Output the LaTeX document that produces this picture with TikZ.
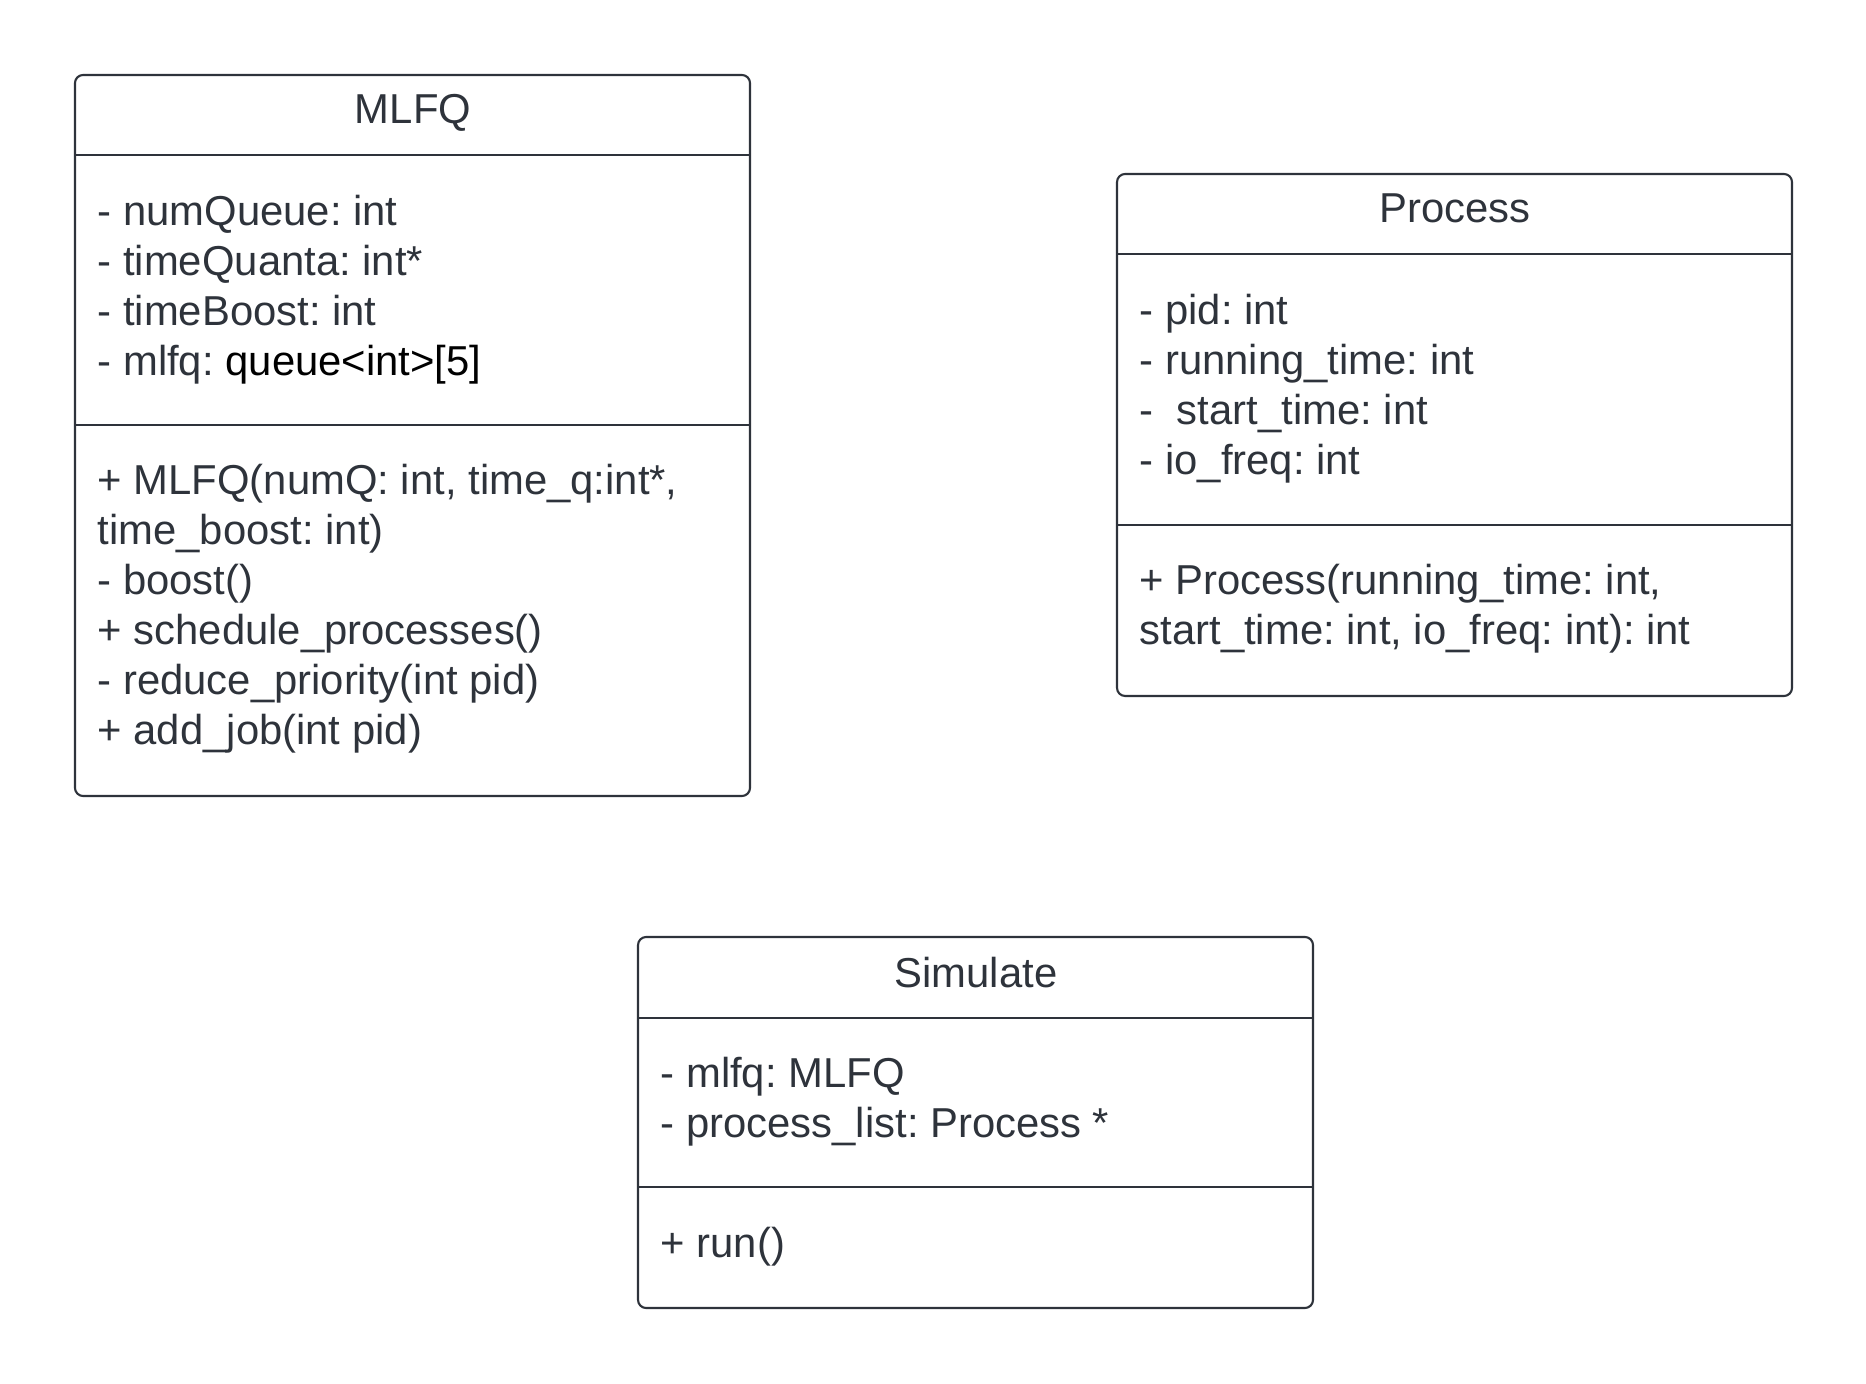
\documentclass[tikz,border=0pt]{standalone}
\usepackage{fontspec}
\setmainfont{Liberation Sans}
\frenchspacing
\definecolor{umlgray}{HTML}{2E333B}
\tikzset{
  classbox/.style={draw=umlgray, line width=0.6pt, rounded corners=2.3pt},
  divider/.style={draw=umlgray, line width=0.6pt},
  classname/.style={anchor=base, inner sep=0pt, text=umlgray},
  member/.style={anchor=base west, inner sep=0pt, text=umlgray},
}
\begin{document}
\begin{tikzpicture}[font=\fontsize{11.9pt}{14.2pt}\selectfont]
    \useasboundingbox (0,0) rectangle (18.66,-13.84);

    % MLFQ
    \draw[classbox] (0.75,-0.75) rectangle (7.50,-7.96);
    \draw[divider] (0.75,-1.55) -- (7.50,-1.55);
    \draw[divider] (0.75,-4.25) -- (7.50,-4.25);
    \node[classname] (mlfq) at (4.13,-1.24) {MLFQ};
    \foreach \txt [count=\i] in {- numQueue: int, - timeQuanta: int*, - timeBoost: int,
        - mlfq: \textcolor{black}{queue<int>[5]}}
        \node[member] (mlfq-a\i) at (0.97,{-2.26-0.5*(\i-1)}) {\txt};
    \foreach \txt [count=\i] in {{+ MLFQ(numQ: int, time\_q:int*,}, time\_boost: int),
        - boost(), + schedule\_processes(), - reduce\_priority(int pid), + add\_job(int pid)}
        \node[member] (mlfq-m\i) at (0.97,{-4.95-0.5*(\i-1)}) {\txt};

    % Process
    \draw[classbox] (11.17,-1.74) rectangle (17.92,-6.96);
    \draw[divider] (11.17,-2.54) -- (17.92,-2.54);
    \draw[divider] (11.17,-5.25) -- (17.92,-5.25);
    \node[classname] (process) at (14.55,-2.23) {Process};
    \foreach \txt [count=\i] in {- pid: int, - running\_time: int, - \ start\_time: int, - io\_freq: int}
        \node[member] (process-a\i) at (11.39,{-3.25-0.5*(\i-1)}) {\txt};
    \node[member] (process-m1) at (11.39,-5.95) {+ Process(running\_time: int,};
    \node[member] (process-m2) at (11.39,-6.45) {start\_time: int, io\_freq: int): int};

    % Simulate
    \draw[classbox] (6.38,-9.37) rectangle (13.13,-13.08);
    \draw[divider] (6.38,-10.18) -- (13.13,-10.18);
    \draw[divider] (6.38,-11.87) -- (13.13,-11.87);
    \node[classname] (simulate) at (9.76,-9.87) {Simulate};
    \node[member] (simulate-a1) at (6.60,-10.87) {- mlfq: MLFQ};
    \node[member] (simulate-a2) at (6.60,-11.37) {- process\_list: Process *};
    \node[member] (simulate-m1) at (6.60,-12.57) {+ run()};
\end{tikzpicture}
\end{document}
